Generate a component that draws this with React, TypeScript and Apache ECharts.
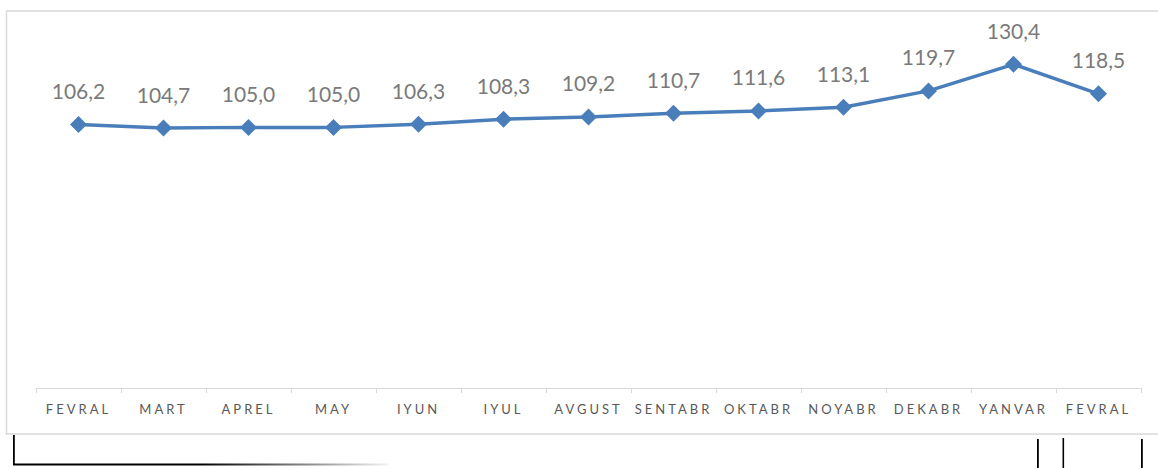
import React, { useEffect, useRef } from "react";
import * as echarts from "echarts";

const categories = ["FEVRAL", "MART", "APREL", "MAY", "IYUN", "IYUL", "AVGUST", "SENTABR", "OKTABR", "NOYABR", "DEKABR", "YANVAR", "FEVRAL"];
const values = [106.2, 104.7, 105.0, 105.0, 106.3, 108.3, 109.2, 110.7, 111.6, 113.1, 119.7, 130.4, 118.5];

export default function App() {
  const ref = useRef<HTMLDivElement>(null);
  useEffect(() => {
    if (!ref.current) return;
    const chart = echarts.init(ref.current, null, { renderer: "svg" });
    chart.setOption({
      animation: false,
      backgroundColor: "#ffffff",
      grid: { left: 36, right: 17, top: 40.5, bottom: 80 },
      xAxis: {
        type: "category",
        data: categories,
        boundaryGap: true,
        axisLine: { lineStyle: { color: "#d9d9d9", width: 1 } },
        axisTick: { show: true, length: 5, lineStyle: { color: "#d9d9d9" } },
        axisLabel: { color: "#595959", fontSize: 13, fontFamily: "Lato", margin: 14, interval: 0 },
      },
      yAxis: {
        type: "value",
        min: 0,
        max: 140,
        show: false,
        splitLine: { show: false },
      },
      series: [
        {
          type: "line",
          data: values,
          symbol: "diamond",
          symbolSize: 17,
          lineStyle: { color: "#4a7ebb", width: 3.5 },
          itemStyle: { color: "#4a7ebb" },
          label: {
            show: true,
            position: "top",
            distance: 15,
            color: "#7a7a7a",
            fontSize: 21,
            fontFamily: "Lato",
            formatter: (p: any) => Number(p.value).toFixed(1).replace(".", ","),
          },
        },
      ],
      graphic: [
        { type: "rect", shape: { x: 6.5, y: 11, width: 1170, height: 423 }, style: { fill: "none", stroke: "#d9d9d9", lineWidth: 1.5 }, silent: true },
        { type: "rect", shape: { x: 13, y: 435, width: 1.8, height: 29 }, style: { fill: "#000" } },
        {
          type: "rect",
          shape: { x: 13, y: 463.5, width: 375, height: 2 },
          style: {
            fill: new echarts.graphic.LinearGradient(0, 0, 1, 0, [
              { offset: 0, color: "#000000" },
              { offset: 0.5, color: "#000000" },
              { offset: 1, color: "rgba(0,0,0,0.05)" },
            ]),
          },
        },
        { type: "rect", shape: { x: 1037, y: 439, width: 1.8, height: 29 }, style: { fill: "#000" } },
        { type: "rect", shape: { x: 1062.5, y: 438, width: 1.6, height: 30 }, style: { fill: "#000" } },
        { type: "rect", shape: { x: 1141, y: 439, width: 1.8, height: 29 }, style: { fill: "#000" } },
      ],
    });
    return () => chart.dispose();
  }, []);
  return (
    <>
      <style>{`
        body { margin: 0; }
        #c text[fill="#595959"], #c text[fill="rgb(89,89,89)"] { letter-spacing: 3px; }
      `}</style>
      <div id="c" ref={ref} style={{ width: 1158, height: 468 }} />
    </>
  );
}
